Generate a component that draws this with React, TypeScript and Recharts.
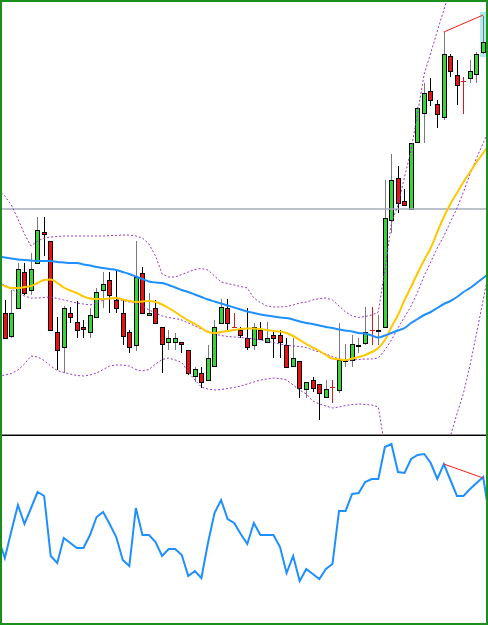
import React from 'react';
import { ComposedChart, Bar, Line, XAxis, YAxis, ReferenceLine, ReferenceArea } from 'recharts';

// candles, bar 0..73
const opens = [
  1.0620, 1.0597, 1.0625, 1.0661, 1.0643, 1.0670, 1.0701, 1.0692, 1.0601, 1.0586,
  1.0620, 1.0611, 1.0606, 1.0601, 1.0616, 1.0643, 1.0653, 1.0633, 1.0620, 1.0601,
  1.0588, 1.0660, 1.0618, 1.0625, 1.0606, 1.0591, 1.0591, 1.0591, 1.0583, 1.0557,
  1.0560, 1.0553, 1.0567, 1.0610, 1.0625, 1.0606, 1.0603, 1.0595, 1.0588, 1.0603,
  1.0591, 1.0598, 1.0598, 1.0588, 1.0567, 1.0572, 1.0544, 1.0553, 1.0549, 1.0536,
  1.05455, 1.0543, 1.0572, 1.0573, 1.0587, 1.0590, 1.0603, 1.0602, 1.0606, 1.0713,
  1.0755, 1.0732, 1.0724, 1.0791, 1.0820, 1.0842, 1.0829, 1.0816, 1.0877, 1.0858,
  1.08515, 1.0855, 1.0859, 1.0881,
];
const highs = [
  1.0633, 1.0643, 1.0670, 1.0670, 1.0680, 1.0716, 1.0716, 1.0692, 1.0616, 1.0627,
  1.0626, 1.0632, 1.0613, 1.0625, 1.0645, 1.0661, 1.0661, 1.0662, 1.0633, 1.0603,
  1.0692, 1.0666, 1.0640, 1.0633, 1.0606, 1.0603, 1.0600, 1.0591, 1.0583, 1.0566,
  1.0566, 1.0588, 1.0613, 1.0634, 1.0634, 1.0620, 1.0606, 1.0625, 1.0610, 1.0611,
  1.0611, 1.0603, 1.0603, 1.0595, 1.0595, 1.0572, 1.0551, 1.0556, 1.0549, 1.0553,
  1.0553, 1.0610, 1.0589, 1.0598, 1.0595, 1.0626, 1.0626, 1.0618, 1.0753, 1.0779,
  1.0767, 1.0744, 1.0790, 1.0826, 1.0850, 1.0855, 1.0833, 1.0901, 1.0879, 1.0873,
  1.0856, 1.0873, 1.0881, 1.0917,
];
const lows = [
  1.0595, 1.0595, 1.0624, 1.0638, 1.0638, 1.0669, 1.0677, 1.0603, 1.0563, 1.0560,
  1.0610, 1.0595, 1.0595, 1.0595, 1.0616, 1.0625, 1.0620, 1.0620, 1.0588, 1.0580,
  1.0582, 1.0620, 1.0618, 1.0610, 1.0560, 1.0583, 1.0583, 1.0580, 1.0558, 1.0551,
  1.0545, 1.0553, 1.0567, 1.0610, 1.0603, 1.0605, 1.0595, 1.0583, 1.0583, 1.0594,
  1.0591, 1.0575, 1.0575, 1.0565, 1.0567, 1.0535, 1.0535, 1.0541, 1.0513, 1.0535,
  1.0530, 1.0540, 1.0566, 1.0566, 1.0580, 1.0588, 1.0588, 1.0588, 1.0605, 1.0700,
  1.0720, 1.0728, 1.0724, 1.0790, 1.0790, 1.0827, 1.0805, 1.0813, 1.0856, 1.0828,
  1.0819, 1.0850, 1.0850, 1.0879,
];
const closes = [
  1.0595, 1.0620, 1.0664, 1.0640, 1.0664, 1.0703, 1.0699, 1.0603, 1.0583, 1.0625,
  1.0616, 1.0603, 1.0604, 1.0618, 1.0641, 1.0649, 1.0638, 1.0625, 1.0597, 1.0586,
  1.0656, 1.0620, 1.0620, 1.0610, 1.0589, 1.0595, 1.0595, 1.0589, 1.0560, 1.0564,
  1.0551, 1.0575, 1.0606, 1.0626, 1.0610, 1.06055, 1.0598, 1.0586, 1.0606, 1.0594,
  1.0595, 1.0595, 1.0591, 1.0566, 1.0575, 1.0545, 1.0551, 1.0545, 1.0540, 1.0544,
  1.0545, 1.0573, 1.0573, 1.0589, 1.0588, 1.0601, 1.06025, 1.0603, 1.0715, 1.0753,
  1.0730, 1.0728, 1.0790, 1.0825, 1.0840, 1.0833, 1.0819, 1.0879, 1.0862, 1.0848,
  1.0851, 1.0862, 1.0879, 1.0891,
];

// indicator lines, bar -1..74 (one bar past each edge so the lines run off the frame)
const blueMa = [
  1.06765, 1.06755, 1.06745, 1.06735, 1.0673, 1.06725, 1.0672, 1.0672, 1.0672, 1.0671,
  1.06705, 1.0670, 1.0670, 1.06685, 1.06675, 1.0666, 1.0665, 1.0664, 1.0663, 1.0661,
  1.0659, 1.06565, 1.0654, 1.06515, 1.06505, 1.0650, 1.0648, 1.06455, 1.0643, 1.0641,
  1.06385, 1.0636, 1.06335, 1.06315, 1.06295, 1.06275, 1.06255, 1.06235, 1.06215, 1.0620,
  1.06185, 1.06175, 1.06165, 1.06155, 1.0615, 1.06135, 1.06115, 1.0610, 1.0609, 1.06075,
  1.0606, 1.0605, 1.06035, 1.06025, 1.06015, 1.0600, 1.05995, 1.05975, 1.05955, 1.05975,
  1.0600, 1.06025, 1.0605, 1.0610, 1.0614, 1.0618, 1.0621, 1.0625, 1.0629, 1.0632,
  1.0636, 1.0641, 1.0645, 1.0650, 1.0655, 1.0660,
];
const yellowMa = [
  1.06495, 1.0647, 1.0645, 1.0645, 1.0646, 1.0647, 1.0650, 1.0653, 1.06535, 1.0650,
  1.06455, 1.06425, 1.0640, 1.06365, 1.06345, 1.0634, 1.0634, 1.06345, 1.0635, 1.06335,
  1.0632, 1.0631, 1.06315, 1.0632, 1.0631, 1.06285, 1.0625, 1.0621, 1.06165, 1.06125,
  1.0609, 1.0605, 1.0601, 1.0600, 1.0601, 1.0602, 1.0603, 1.0604, 1.06045, 1.06045,
  1.0604, 1.0603, 1.0602, 1.06015, 1.0600, 1.0597, 1.0593, 1.0589, 1.05855, 1.0582,
  1.0578, 1.05745, 1.05735, 1.0573, 1.05745, 1.0576, 1.0578, 1.0581, 1.0585, 1.0593,
  1.0606, 1.0618, 1.0633, 1.0646, 1.0660, 1.0673, 1.0685, 1.0701, 1.0716, 1.0729,
  1.0740, 1.0751, 1.0761, 1.0771, 1.0780, 1.0789,
];
const bbUpper = [
  1.0743, 1.0737, 1.0728, 1.0714, 1.0699, 1.0687, 1.0692, 1.0695, 1.0696, 1.06965,
  1.0697, 1.0697, 1.0697, 1.0697, 1.0697, 1.0697, 1.0697, 1.06975, 1.06975, 1.0698,
  1.0698, 1.0697, 1.0695, 1.0689, 1.0677, 1.0659, 1.0656, 1.0656, 1.06585, 1.0661,
  1.06635, 1.06645, 1.0663, 1.0657, 1.0651, 1.06495, 1.0648, 1.06465, 1.0645, 1.0635,
  1.06305, 1.0627, 1.0626, 1.0626, 1.06265, 1.0628, 1.0630, 1.0631, 1.0633, 1.06345,
  1.0635, 1.0633, 1.0627, 1.0621, 1.0617, 1.06155, 1.06165, 1.0618, 1.0621, 1.0663,
  1.0710, 1.0728, 1.0756, 1.0783, 1.0820, 1.0859, 1.0880, 1.0902, 1.0923, 1.0945,
  1.0963, 1.0981, 1.0997, 1.1013, 1.1028, 1.1043,
];
const bbMiddle = [
  1.0650, 1.0648, 1.0644, 1.0640, 1.0637, 1.0635, 1.0635, 1.06355, 1.0636, 1.06345,
  1.0633, 1.06315, 1.0630, 1.0629, 1.0628, 1.0630, 1.0633, 1.06345, 1.0634, 1.06325,
  1.0631, 1.0630, 1.0627, 1.0623, 1.0620, 1.0617, 1.06155, 1.06145, 1.0613, 1.0610,
  1.0607, 1.0604, 1.06015, 1.0599, 1.05975, 1.05965, 1.0596, 1.05955, 1.0595, 1.0594,
  1.0593, 1.0592, 1.05905, 1.0589, 1.0588, 1.0587, 1.05865, 1.05855, 1.0583, 1.0581,
  1.0579, 1.05765, 1.0574, 1.0573, 1.0573, 1.05735, 1.0574, 1.0574, 1.0575, 1.0583,
  1.0593, 1.0605, 1.0616, 1.0627, 1.0641, 1.0657, 1.0671, 1.0685, 1.0697, 1.0711,
  1.0725, 1.0741, 1.0759, 1.0775, 1.0790, 1.0804,
];
const bbLower = [
  1.0557, 1.0558, 1.05595, 1.0563, 1.0569, 1.0577, 1.0576, 1.05725, 1.0567, 1.05625,
  1.05605, 1.0559, 1.05575, 1.0557, 1.0558, 1.0560, 1.05635, 1.0567, 1.0568, 1.0568,
  1.0567, 1.05635, 1.0562, 1.05635, 1.0569, 1.05735, 1.0575, 1.0573, 1.05705, 1.0561,
  1.0553, 1.0546, 1.0544, 1.0543, 1.05435, 1.05445, 1.05455, 1.0547, 1.0549, 1.0551,
  1.0553, 1.0554, 1.0555, 1.05545, 1.0553, 1.0548, 1.0543, 1.0539, 1.0532, 1.0529,
  1.0527, 1.0525, 1.0526, 1.05275, 1.05285, 1.0529, 1.05285, 1.0528, 1.0526, 1.0486,
  1.0453, 1.0428, 1.0413, 1.0403, 1.0403, 1.0413, 1.0428, 1.0448, 1.0470, 1.0497,
  1.0519, 1.0540, 1.0568, 1.0600, 1.0633, 1.0666,
];
const oscValues = [
  85, 65, 92, 118, 99, 115, 131, 127, 67, 60,
  85, 80, 75, 75, 88, 106, 111, 99, 86, 63,
  57, 115, 88, 88, 81, 67, 74, 74, 68, 47,
  52, 45, 80, 110, 123, 104, 100, 89, 79, 100,
  88, 88, 88, 76, 50, 67, 42, 54, 49, 44,
  54, 59, 112, 112, 129, 130, 141, 144, 144, 176,
  179, 151, 150, 164, 168, 169, 160, 144, 159, 143,
  127, 127, 134, 140, 146, 104,
];

// trend lines (divergence) and marks
const trendBars = [67, 73];
const trendPrices = [1.0901, 1.0918];
const oscTrendValues = [159, 145];
const levelPrice = 1.0724;
const lastBar = 73;
const lastBoxPrices = [1.0876, 1.0921];

const priceDomain = [1.0499, 1.0931];
const oscDomain = [0, 187];

const UP = '#35d635';
const DOWN = '#ee1010';
const DOJI = '#d41c1c';

const bars = Array.from({ length: blueMa.length }, (_, k) => k - 1);
const data = bars.map((bar, k) => {
  const has = bar >= 0 && bar < opens.length;
  const t = trendBars.indexOf(bar);
  return {
    bar,
    range: has ? [lows[bar], highs[bar]] : null,
    open: has ? opens[bar] : null,
    high: has ? highs[bar] : null,
    low: has ? lows[bar] : null,
    close: has ? closes[bar] : null,
    blue: blueMa[k],
    yellow: yellowMa[k],
    upper: bbUpper[k],
    middle: bbMiddle[k],
    lower: bbLower[k],
    osc: oscValues[k],
    trend: t >= 0 ? trendPrices[t] : null,
    oscTrend: t >= 0 ? oscTrendValues[t] : null,
  };
});

function Candle(props: any) {
  const { x, y, width, height, payload } = props;
  if (!payload || payload.open == null || !height) return null;
  const { open, close, high, low } = payload;
  const perUnit = height / (high - low);
  const toY = (v: number) => y + (high - v) * perUnit;
  const c = Math.floor(x + width / 2);
  const wx = c + 0.5;
  const top = Math.round(toY(Math.max(open, close)));
  const bottom = Math.round(toY(Math.min(open, close)));
  const hiY = Math.round(toY(high));
  const loY = Math.round(toY(low));

  // doji: thin red cross
  if (Math.abs(close - open) < 0.00006) {
    return (
      <g>
        <line x1={wx} x2={wx} y1={hiY} y2={loY} stroke={DOJI} />
        <line x1={c - 2} x2={c + 3} y1={top + 0.5} y2={top + 0.5} stroke={DOJI} />
      </g>
    );
  }
  const up = close >= open;
  return (
    <g>
      <line x1={wx} x2={wx} y1={hiY} y2={loY} stroke={up ? '#7a7a7a' : '#000'} />
      <rect
        x={c - 1.5}
        y={top + 0.5}
        width={4}
        height={Math.max(bottom - top, 1)}
        fill={up ? UP : DOWN}
        stroke="#000"
      />
    </g>
  );
}

const dotted = { stroke: '#9a33d6', strokeWidth: 1, strokeDasharray: '2 2' };

export default function App() {
  const chartLeft = -6.8;
  const chartWidth = 498;
  return (
    <div
      style={{
        position: 'absolute',
        left: 0,
        top: 0,
        width: 488,
        height: 625,
        boxSizing: 'border-box',
        border: '2px solid #1b8f1b',
        background: '#fff',
      }}
    >
      <div style={{ position: 'relative', width: 484, height: 621, overflow: 'hidden' }}>
        <div style={{ position: 'absolute', left: chartLeft, top: 0 }}>
          <ComposedChart width={chartWidth} height={432} data={data} margin={{ top: 0, right: 0, bottom: 0, left: 0 }}>
            <XAxis dataKey="bar" type="category" hide />
            <YAxis hide domain={priceDomain} allowDataOverflow />
            <ReferenceArea
              x1={lastBar}
              x2={lastBar}
              y1={lastBoxPrices[0]}
              y2={lastBoxPrices[1]}
              fill="#aeecf0"
              fillOpacity={1}
              stroke="none"
            />
            <ReferenceLine y={levelPrice} stroke="#a7acb8" strokeWidth={1.5} />
            <Bar dataKey="range" barSize={5} isAnimationActive={false} shape={(p: any) => <Candle {...p} />} />
            <Line type="linear" dataKey="upper" dot={false} activeDot={false} isAnimationActive={false} {...dotted} />
            <Line type="linear" dataKey="middle" dot={false} activeDot={false} isAnimationActive={false} {...dotted} />
            <Line type="linear" dataKey="lower" dot={false} activeDot={false} isAnimationActive={false} {...dotted} />
            <Line type="monotone" dataKey="yellow" stroke="#ffc800" strokeWidth={2} dot={false} activeDot={false} isAnimationActive={false} />
            <Line type="monotone" dataKey="blue" stroke="#1e8fff" strokeWidth={2} dot={false} activeDot={false} isAnimationActive={false} />
            <Line type="linear" dataKey="trend" stroke="#ff1a1a" strokeWidth={1} dot={false} activeDot={false} connectNulls isAnimationActive={false} />
          </ComposedChart>
        </div>
        <div style={{ position: 'absolute', left: 0, top: 432, width: 484, height: 1, background: '#8a8a8a' }} />
        <div style={{ position: 'absolute', left: 0, top: 433, width: 484, height: 1, background: '#000' }} />
        <div style={{ position: 'absolute', left: chartLeft, top: 434 }}>
          <ComposedChart width={chartWidth} height={187} data={data} margin={{ top: 0, right: 0, bottom: 0, left: 0 }}>
            <XAxis dataKey="bar" type="category" scale="band" hide />
            <YAxis hide domain={oscDomain} allowDataOverflow />
            <Line type="linear" dataKey="osc" stroke="#1e8fff" strokeWidth={2} dot={false} activeDot={false} isAnimationActive={false} />
            <Line type="linear" dataKey="oscTrend" stroke="#ff1a1a" strokeWidth={1} dot={false} activeDot={false} connectNulls isAnimationActive={false} />
          </ComposedChart>
        </div>
      </div>
    </div>
  );
}
